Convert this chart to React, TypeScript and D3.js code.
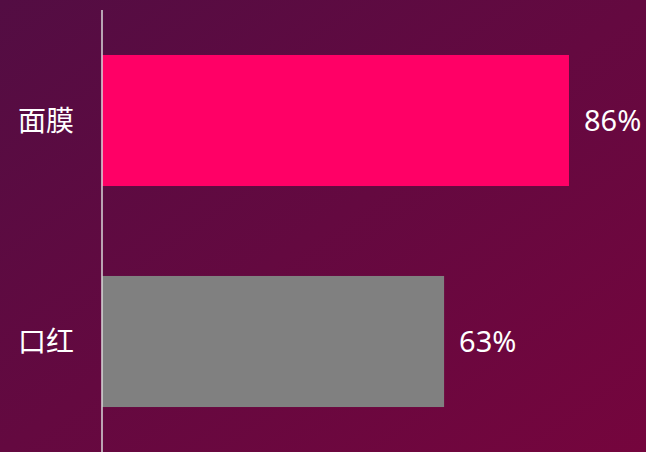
import React from "react";
import * as d3 from "d3";

const categories = ["面膜", "口红"];
const values = [0.86, 0.63];
const barColors = ["#ff0066", "#808080"];

const W = 646;
const H = 452;

export default function App() {
  const x = d3.scaleLinear().domain([0, 1]).range([102, 645]);
  const y = d3.scaleBand<string>().domain(categories).range([10, H]).paddingInner(0.407).paddingOuter(0.2035);
  const fmt = d3.format(".0%");
  const font = "'Noto Sans', 'Noto Sans CJK SC', sans-serif";
  return (
    <svg width={W} height={H} style={{ position: "fixed", left: 0, top: 0 }}>
      <defs>
        <linearGradient id="bg" x1="0" y1="0" x2="1" y2="1">
          <stop offset="0%" stopColor="#530d43" />
          <stop offset="100%" stopColor="#75053d" />
        </linearGradient>
      </defs>
      <rect x={0} y={0} width={W} height={H} fill="url(#bg)" />
      {categories.map((c, i) => (
        <g key={c}>
          <rect x={x(0)} y={y(c)!} width={x(values[i]) - x(0)} height={y.bandwidth()} fill={barColors[i]} />
          <text
            x={x(values[i]) + 15}
            y={y(c)! + y.bandwidth() / 2}
            dy="0.36em"
            fill="#ffffff"
            fontSize={29}
            fontFamily={font}
          >
            {fmt(values[i])}
          </text>
          <text
            x={x(0) - 28}
            y={y(c)! + y.bandwidth() / 2}
            dy="0.36em"
            textAnchor="end"
            fill="#ffffff"
            fontSize={28}
            fontFamily={font}
          >
            {c}
          </text>
        </g>
      ))}
      <line x1={x(0)} x2={x(0)} y1={10} y2={H} stroke="#d9d9d9" strokeWidth={1.5} />
    </svg>
  );
}
